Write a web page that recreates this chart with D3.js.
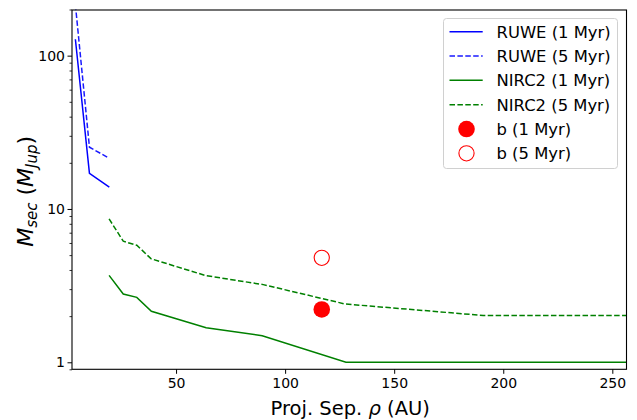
<!DOCTYPE html>
<html>
<head>
<meta charset="utf-8">
<script src="https://cdn.jsdelivr.net/npm/d3@7"></script>
<style>
  html, body { margin: 0; padding: 0; background: #fff; }
  text { font-family: "DejaVu Sans", sans-serif; }
</style>
</head>
<body>
<svg id="chart" width="637" height="420"></svg>
<script>
// ---- data ----
const ruwe1Sep  = [3.85, 10.3, 19.4];
const ruwe1Mass = [128, 17.1, 13.9];
const ruwe5Sep  = [3.85, 10.3, 19.4];
const ruwe5Mass = [215, 25.3, 21.4];
const nirc1Sep  = [19.3, 25.8, 32.0, 38.7, 63.8, 89.5, 127.9, 190.8, 256.5];
const nirc1Mass = [3.69, 2.79, 2.65, 2.15, 1.68, 1.49, 1.0, 1.0, 1.0];
const nirc5Sep  = [19.3, 25.8, 32.0, 38.6, 63.5, 90.0, 127.5, 190.8, 256.5];
const nirc5Mass = [8.62, 6.16, 5.80, 4.73, 3.68, 3.21, 2.40, 2.02, 2.02];
const bSep = 116.8;
const bMass1 = 2.21;
const bMass5 = 4.80;
const xTicks = [50, 100, 150, 200, 250];
const yMajorTicks = [1, 10, 100];
const yTickLabels = ["1", "10", "100"];
const legendLabels = ["RUWE (1 Myr)", "RUWE (5 Myr)", "NIRC2 (1 Myr)", "NIRC2 (5 Myr)", "b (1 Myr)", "b (5 Myr)"];

// ---- layout ----
const svg = d3.select("#chart");
const L = 72, R = 626.5, T = 9.5, B = 369.3;
const x = d3.scaleLinear().domain([2.3, 256.5]).range([L, R]);
const y = d3.scaleLog().domain([0.9, 200]).range([B, T]);

svg.append("defs").append("clipPath").attr("id", "clip")
  .append("rect").attr("x", L).attr("y", T).attr("width", R - L).attr("height", B - T);

const plot = svg.append("g").attr("clip-path", "url(#clip)");
const line = d3.line().x(d => x(d[0])).y(d => y(d[1]));
const zip = (a, b) => a.map((v, i) => [v, b[i]]);

const series = [
  {sep: ruwe1Sep, m: ruwe1Mass, color: "#0000ff", dash: null, op: 1},
  {sep: ruwe5Sep, m: ruwe5Mass, color: "#0000ff", dash: "5.5,2.4", op: 0.9},
  {sep: nirc1Sep, m: nirc1Mass, color: "#008000", dash: null, op: 1},
  {sep: nirc5Sep, m: nirc5Mass, color: "#008000", dash: "5.5,2.4", op: 1}
];
series.forEach(s => {
  plot.append("path").datum(zip(s.sep, s.m))
    .attr("d", line).attr("fill", "none")
    .attr("stroke", s.color).attr("stroke-width", 1.5)
    .attr("stroke-opacity", s.op)
    .attr("stroke-dasharray", s.dash);
});
plot.append("circle").attr("cx", x(bSep)).attr("cy", y(bMass1)).attr("r", 8.3).attr("fill", "#ff0000");
plot.append("circle").attr("cx", x(bSep)).attr("cy", y(bMass5)).attr("r", 7.6)
  .attr("fill", "none").attr("stroke", "#ff0000").attr("stroke-width", 1.1);

// ---- axes ----
const xAxis = d3.axisBottom(x).tickValues(xTicks).tickSize(4.5).tickPadding(4).tickFormat(d3.format("d"));
const gx = svg.append("g").attr("transform", `translate(0,${B})`).call(xAxis);
gx.select(".domain").remove();
gx.selectAll("text").attr("font-size", 14).attr("fill", "#000").attr("font-family", "DejaVu Sans");
gx.selectAll("line").attr("stroke", "#000").attr("stroke-width", 1);

const minor = [];
[0.1, 1, 10, 100].forEach(dec => { for (let k = 2; k <= 9; k++) { const v = dec * k; if (v >= 0.9 && v <= 200) minor.push(v); } });
const yAxisMinor = d3.axisLeft(y).tickValues(minor).tickSize(2.5).tickFormat("");
const gym = svg.append("g").attr("transform", `translate(${L},0)`).call(yAxisMinor);
gym.select(".domain").remove();
gym.selectAll("line").attr("stroke", "#000").attr("stroke-width", 0.8);

const yAxis = d3.axisLeft(y).tickValues(yMajorTicks).tickSize(4.5).tickPadding(2.5)
  .tickFormat((d, i) => yTickLabels[i]);
const gy = svg.append("g").attr("transform", `translate(${L},0)`).call(yAxis);
gy.select(".domain").remove();
gy.selectAll("text").attr("font-size", 14).attr("fill", "#000").attr("font-family", "DejaVu Sans");
gy.selectAll("line").attr("stroke", "#000").attr("stroke-width", 1);

// spines
svg.append("rect").attr("x", L).attr("y", T + 0.5).attr("width", R - L).attr("height", B - T - 0.5)
  .attr("fill", "none").attr("stroke", "#000").attr("stroke-width", 1.1);

// axis labels
const xl = svg.append("text").attr("x", (L + R) / 2 + 1).attr("y", 414.5)
  .attr("text-anchor", "middle").attr("font-size", 19.5);
xl.append("tspan").text("Proj. Sep. ");
xl.append("tspan").attr("font-style", "italic").text("ρ");
xl.append("tspan").text(" (AU)");

const yl = svg.append("text").attr("transform", `translate(33,${(T + B) / 2 + 2}) rotate(-90)`)
  .attr("text-anchor", "middle").attr("font-size", 22);
yl.append("tspan").attr("font-style", "italic").text("M");
yl.append("tspan").attr("font-style", "italic").attr("font-size", 15).attr("dy", 4).text("sec");
yl.append("tspan").attr("dy", -4).text(" (");
yl.append("tspan").attr("font-style", "italic").text("M");
yl.append("tspan").attr("font-style", "italic").attr("font-size", 15).attr("dy", 4).text("Jup");
yl.append("tspan").attr("dy", -4).text(")");

// ---- legend ----
const lg = svg.append("g");
lg.append("rect").attr("x", 443.5).attr("y", 18.5).attr("width", 174).attr("height", 150)
  .attr("rx", 3).attr("fill", "#fff").attr("fill-opacity", 0.8).attr("stroke", "#d0d0d0").attr("stroke-width", 1);
const rowY = i => 31.7 + i * 24.33;
legendLabels.forEach((lab, i) => {
  const cy = rowY(i);
  if (i < 4) {
    const s = series[i];
    lg.append("line").attr("x1", 449.5).attr("x2", 482.7).attr("y1", cy).attr("y2", cy)
      .attr("stroke", s.color).attr("stroke-width", 1.5).attr("stroke-opacity", s.op)
      .attr("stroke-dasharray", s.dash);
  } else if (i === 4) {
    lg.append("circle").attr("cx", 466.5).attr("cy", cy).attr("r", 8.3).attr("fill", "#ff0000");
  } else {
    lg.append("circle").attr("cx", 466.5).attr("cy", cy).attr("r", 7.6).attr("fill", "none")
      .attr("stroke", "#ff0000").attr("stroke-width", 1.1);
  }
  lg.append("text").attr("x", 496.5).attr("y", cy).attr("dy", "0.36em")
    .attr("font-size", 16.4).attr("fill", "#000").text(lab);
});
</script>
</body>
</html>
